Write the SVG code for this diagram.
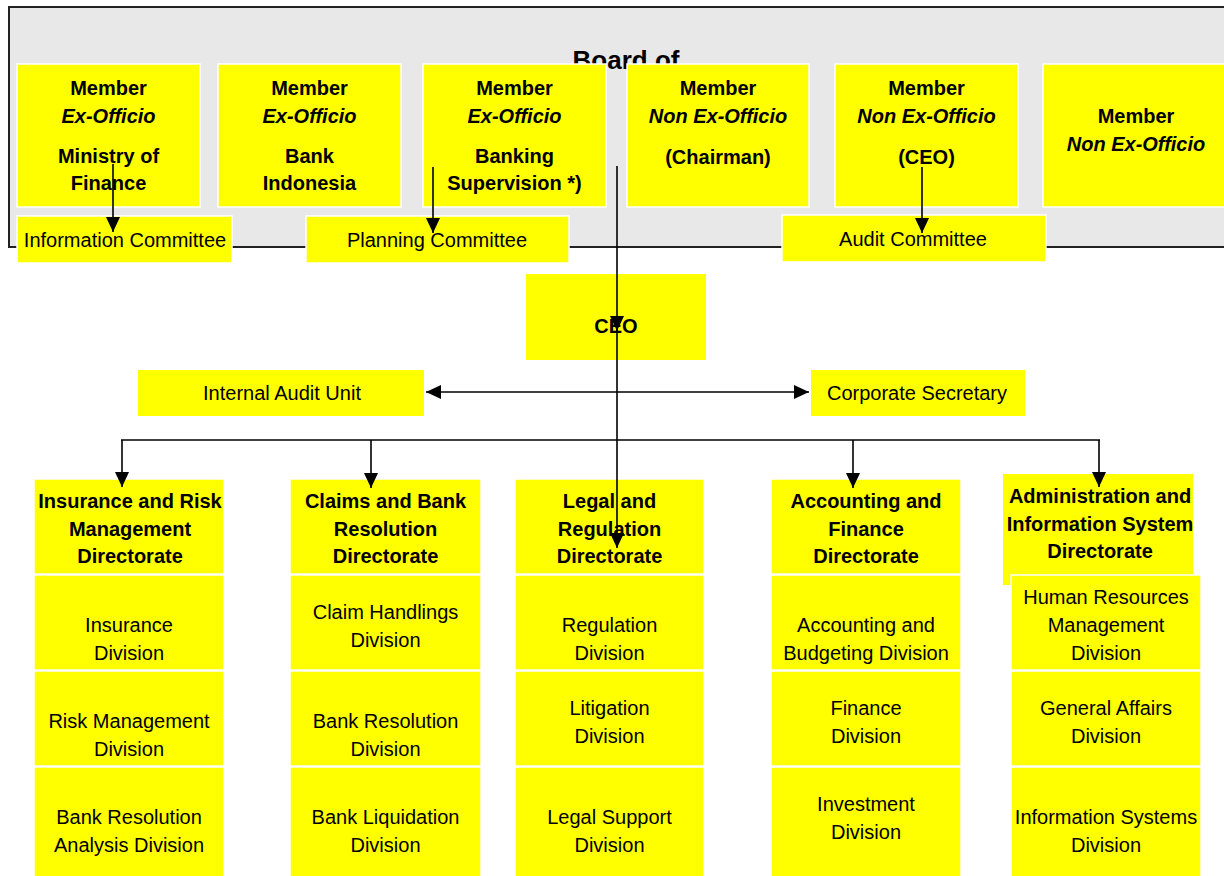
<svg xmlns="http://www.w3.org/2000/svg" width="1224" height="876" viewBox="0 0 1224 876">
<defs>
<marker id="ah" markerWidth="15" markerHeight="14" refX="15" refY="7" orient="auto-start-reverse" markerUnits="userSpaceOnUse"><path d="M0,0 L15,7 L0,14 z" fill="#000"/></marker>
<style>
.box{fill:#ffff00;stroke:#ffffff;stroke-width:1.5}
.t{font-family:"Liberation Sans",Arial,sans-serif;font-size:20px;fill:#000;text-anchor:middle}
.b{font-weight:bold}
.i{font-style:italic}
.ln{stroke:#000;stroke-width:1.6;fill:none}
</style>
</defs>
<rect width="1224" height="876" fill="#ffffff"/>
<g id="board">
<rect x="9" y="7" width="1240" height="240" fill="#e8e8e8" stroke="#222" stroke-width="2"/>
<text class="t b" x="626" y="69" style="font-size:26px">Board of</text>
</g>
<g id="member1"><rect class="box" x="17" y="64" width="183" height="143"/>
<text class="t b" x="108.5" y="95">Member</text><text class="t b i" x="108.5" y="123">Ex-Officio</text>
<text class="t b" x="108.5" y="163">Ministry of</text><text class="t b" x="108.5" y="190">Finance</text></g>
<g id="member2"><rect class="box" x="218" y="64" width="183" height="143"/>
<text class="t b" x="309.5" y="95">Member</text><text class="t b i" x="309.5" y="123">Ex-Officio</text>
<text class="t b" x="309.5" y="163">Bank</text><text class="t b" x="309.5" y="190">Indonesia</text></g>
<g id="member3"><rect class="box" x="423" y="64" width="183" height="143"/>
<text class="t b" x="514.5" y="95">Member</text><text class="t b i" x="514.5" y="123">Ex-Officio</text>
<text class="t b" x="514.5" y="163">Banking</text><text class="t b" x="514.5" y="190">Supervision *)</text></g>
<g id="member4"><rect class="box" x="627" y="64" width="182" height="143"/>
<text class="t b" x="718" y="95">Member</text><text class="t b i" x="718" y="123">Non Ex-Officio</text>
<text class="t b" x="718" y="164">(Chairman)</text></g>
<g id="member5"><rect class="box" x="835" y="64" width="183" height="143"/>
<text class="t b" x="926.5" y="95">Member</text><text class="t b i" x="926.5" y="123">Non Ex-Officio</text>
<text class="t b" x="926.5" y="164">(CEO)</text></g>
<g id="member6"><rect class="box" x="1043" y="64" width="200" height="143"/>
<text class="t b" x="1136" y="123">Member</text><text class="t b i" x="1136" y="151">Non Ex-Officio</text></g>
<g id="infoCommittee"><rect class="box" x="17" y="216" width="215" height="47"/><text class="t" x="125" y="247">Information Committee</text></g>
<g id="planningCommittee"><rect class="box" x="306" y="216" width="263" height="47"/><text class="t" x="437" y="247">Planning Committee</text></g>
<g id="auditCommittee"><rect class="box" x="782" y="215" width="264" height="47"/><text class="t" x="913" y="246">Audit Committee</text></g>
<g id="ceo"><rect x="526" y="274" width="180" height="86" fill="#ffff00"/><text class="t b" x="616" y="333">CEO</text></g>
<g id="internalAudit"><rect x="138" y="370" width="286" height="46" fill="#ffff00"/><text class="t" x="282" y="400">Internal Audit Unit</text></g>
<g id="corpSec"><rect x="811" y="370" width="214" height="46" fill="#ffff00"/><text class="t" x="917" y="400">Corporate Secretary</text></g>
<g id="dir1">
<rect class="box" x="34" y="479" width="190" height="95"/>
<text class="t b" x="130" y="508">Insurance and Risk</text><text class="t b" x="130" y="536">Management</text><text class="t b" x="130" y="563">Directorate</text>
<rect class="box" x="34" y="575" width="190" height="95"/><text class="t" x="129" y="632">Insurance</text><text class="t" x="129" y="660">Division</text>
<rect class="box" x="34" y="671" width="190" height="95"/><text class="t" x="129" y="728">Risk Management</text><text class="t" x="129" y="756">Division</text>
<rect class="box" x="34" y="767" width="190" height="112"/><text class="t" x="129" y="824">Bank Resolution</text><text class="t" x="129" y="852">Analysis Division</text>
</g>
<g id="dir2">
<rect class="box" x="290" y="479" width="191" height="95"/>
<text class="t b" x="385.5" y="508">Claims and Bank</text><text class="t b" x="385.5" y="536">Resolution</text><text class="t b" x="385.5" y="563">Directorate</text>
<rect class="box" x="290" y="575" width="191" height="95"/><text class="t" x="385.5" y="619">Claim Handlings</text><text class="t" x="385.5" y="647">Division</text>
<rect class="box" x="290" y="671" width="191" height="95"/><text class="t" x="385.5" y="728">Bank Resolution</text><text class="t" x="385.5" y="756">Division</text>
<rect class="box" x="290" y="767" width="191" height="112"/><text class="t" x="385.5" y="824">Bank Liquidation</text><text class="t" x="385.5" y="852">Division</text>
</g>
<g id="dir3">
<rect class="box" x="515" y="479" width="189" height="95"/>
<text class="t b" x="609.5" y="508">Legal and</text><text class="t b" x="609.5" y="536">Regulation</text><text class="t b" x="609.5" y="563">Directorate</text>
<rect class="box" x="515" y="575" width="189" height="95"/><text class="t" x="609.5" y="632">Regulation</text><text class="t" x="609.5" y="660">Division</text>
<rect class="box" x="515" y="671" width="189" height="95"/><text class="t" x="609.5" y="715">Litigation</text><text class="t" x="609.5" y="743">Division</text>
<rect class="box" x="515" y="767" width="189" height="112"/><text class="t" x="609.5" y="824">Legal Support</text><text class="t" x="609.5" y="852">Division</text>
</g>
<g id="dir4">
<rect class="box" x="771" y="479" width="190" height="95"/>
<text class="t b" x="866" y="508">Accounting and</text><text class="t b" x="866" y="536">Finance</text><text class="t b" x="866" y="563">Directorate</text>
<rect class="box" x="771" y="575" width="190" height="95"/><text class="t" x="866" y="632">Accounting and</text><text class="t" x="866" y="660">Budgeting Division</text>
<rect class="box" x="771" y="671" width="190" height="95"/><text class="t" x="866" y="715">Finance</text><text class="t" x="866" y="743">Division</text>
<rect class="box" x="771" y="767" width="190" height="112"/><text class="t" x="866" y="811">Investment</text><text class="t" x="866" y="839">Division</text>
</g>
<g id="dir5">
<rect x="1003" y="474" width="190" height="111" fill="#ffff00"/>
<text class="t b" x="1100" y="503">Administration and</text><text class="t b" x="1100" y="531">Information System</text><text class="t b" x="1100" y="558">Directorate</text>
<rect class="box" x="1011" y="575" width="190" height="95"/><text class="t" x="1106" y="604">Human Resources</text><text class="t" x="1106" y="632">Management</text><text class="t" x="1106" y="660">Division</text>
<rect class="box" x="1011" y="671" width="190" height="95"/><text class="t" x="1106" y="715">General Affairs</text><text class="t" x="1106" y="743">Division</text>
<rect class="box" x="1011" y="767" width="190" height="112"/><text class="t" x="1106" y="824">Information Systems</text><text class="t" x="1106" y="852">Division</text>
</g>
<g id="connectors">
<line class="ln" x1="113" y1="164" x2="113" y2="232" marker-end="url(#ah)"/>
<line class="ln" x1="433" y1="167" x2="433" y2="233" marker-end="url(#ah)"/>
<line class="ln" x1="922" y1="167" x2="922" y2="233" marker-end="url(#ah)"/>
<line class="ln" x1="617" y1="166" x2="617" y2="331" marker-end="url(#ah)"/>
<line class="ln" x1="617" y1="318" x2="617" y2="548" marker-end="url(#ah)"/>
<line class="ln" x1="426" y1="392" x2="809" y2="392" marker-start="url(#ah)" marker-end="url(#ah)"/>
<line class="ln" x1="121" y1="440" x2="1100" y2="440"/>
<line class="ln" x1="122" y1="440" x2="122" y2="487" marker-end="url(#ah)"/>
<line class="ln" x1="371" y1="440" x2="371" y2="488" marker-end="url(#ah)"/>
<line class="ln" x1="853" y1="440" x2="853" y2="488" marker-end="url(#ah)"/>
<line class="ln" x1="1099" y1="440" x2="1099" y2="487" marker-end="url(#ah)"/>
</g>
</svg>
